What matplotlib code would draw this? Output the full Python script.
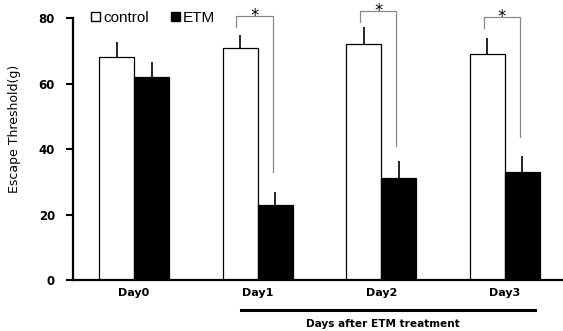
import numpy as np
import matplotlib.pyplot as plt
from matplotlib.patches import Patch

days = ["Day0", "Day1", "Day2", "Day3"]
control = [68.2, 70.9, 72.1, 68.9]
control_err = [4.4, 4.0, 5.3, 4.9]
etm = [61.9, 23.0, 31.0, 33.1]
etm_err = [4.6, 3.9, 5.4, 4.8]

# significance brackets: (day index, top, left leg bottom, right leg bottom)
brackets = [(1, 80.6, 77.3, 33.1), (2, 82.0, 78.9, 41.0), (3, 80.2, 77.0, 43.6)]

x = np.arange(len(days))
w = 0.283

fig = plt.figure(figsize=(5.63, 3.31), dpi=100)
ax = fig.add_axes([0.1297, 0.154, 0.8703, 0.7916])

ax.bar(x - w / 2, control, w, color="white", edgecolor="black", linewidth=0.9)
ax.bar(x + w / 2, etm, w, color="black", edgecolor="black", linewidth=0.9)
ax.errorbar(x - w / 2, control, yerr=[np.zeros(4), control_err], fmt="none",
            ecolor="black", elinewidth=1.2, capsize=0)
ax.errorbar(x + w / 2, etm, yerr=[np.zeros(4), etm_err], fmt="none",
            ecolor="black", elinewidth=1.2, capsize=0)

for i, top, lb, rb in brackets:
    xl = i - w / 2 - 0.03
    xr = i + w / 2 - 0.02
    ax.plot([xl, xl, xr, xr], [lb, top, top, rb], color="#888888", lw=0.9,
            clip_on=False)
    ax.text((xl + xr) / 2, top - 1.4, "*", ha="center", va="baseline",
            fontsize=12, clip_on=False)

ax.set_xlim(-0.494, 3.47)
ax.set_ylim(0, 80)
ax.set_yticks([0, 20, 40, 60, 80])
ax.set_xticks(x)
ax.set_xticklabels(days, fontweight="bold", fontsize=8)
ax.tick_params(axis="x", length=0, pad=6)
ax.tick_params(axis="y", length=5, width=1.5, labelsize=8.5, pad=8)
for lab in ax.get_yticklabels():
    lab.set_fontweight("bold")
ax.set_ylabel("Escape Threshold(g)", fontsize=9)
ax.yaxis.set_label_coords(-0.106, 0.576)

for s in ["top", "right"]:
    ax.spines[s].set_visible(False)
for s in ["left", "bottom"]:
    ax.spines[s].set_linewidth(1.6)

# bracket line under Day1..Day3
ax.plot([0.862, 3.24], [-9.0, -9.0], color="black", lw=2.2, clip_on=False)
ax.text(2.01, -12.0, "Days after ETM treatment", ha="center", va="top",
        fontsize=7.6, fontweight="bold")

handles = [Patch(facecolor="white", edgecolor="black", linewidth=1.0),
           Patch(facecolor="black", edgecolor="black")]
ax.legend(handles, ["control", "ETM"], ncol=2, frameon=False,
          loc="upper left", bbox_to_anchor=(0.0367, 1.027), borderaxespad=0,
          borderpad=0, prop={"family": "Liberation Sans", "size": 11},
          handlelength=0.6, handleheight=0.6, handletextpad=0.18,
          columnspacing=1.44)

fig.savefig("out.png", dpi=100)
